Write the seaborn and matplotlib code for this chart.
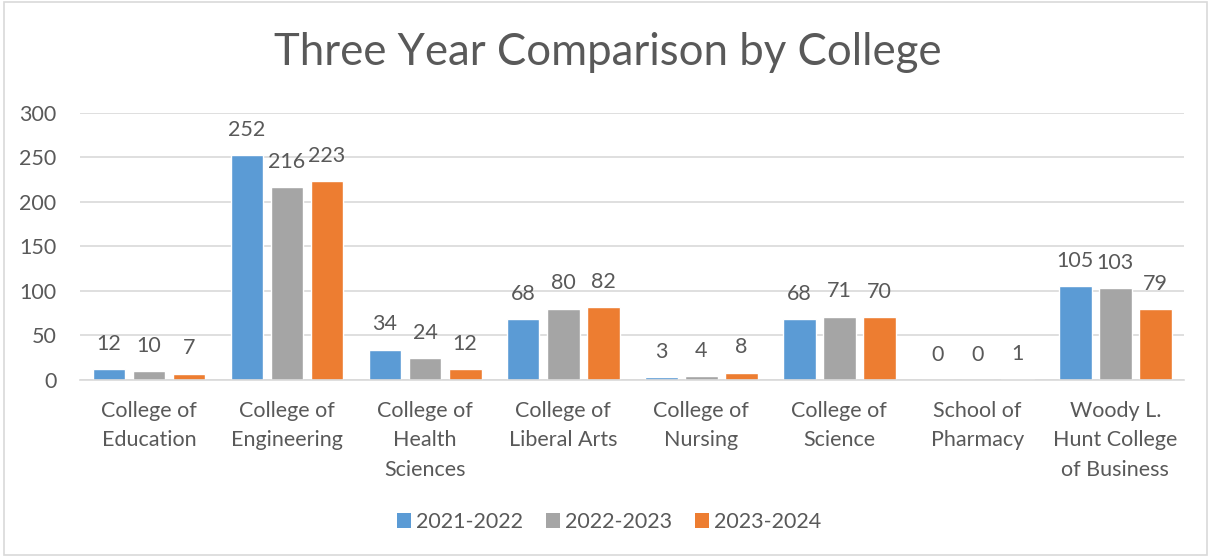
import matplotlib
matplotlib.use("Agg")
import matplotlib.pyplot as plt
import seaborn as sns
import pandas as pd
from matplotlib.patches import Rectangle, Patch

colleges = [
    "College of\nEducation",
    "College of\nEngineering",
    "College of\nHealth\nSciences",
    "College of\nLiberal Arts",
    "College of\nNursing",
    "College of\nScience",
    "School of\nPharmacy",
    "Woody L.\nHunt College\nof Business",
]
years = ["2021-2022", "2022-2023", "2023-2024"]
v_2021 = [12, 252, 34, 68, 3, 68, 0, 105]
v_2022 = [10, 216, 24, 80, 4, 71, 0, 103]
v_2023 = [7, 223, 12, 82, 8, 70, 1, 79]
colors = ["#5B9BD5", "#A5A5A5", "#ED7D31"]
text_col = "#595959"

rows = []
for yr, vals in zip(years, [v_2021, v_2022, v_2023]):
    for c, v in zip(colleges, vals):
        rows.append({"college": c, "year": yr, "count": v})
df = pd.DataFrame(rows)

sns.set_style("white")
plt.rcParams["font.family"] = ["Lato", "DejaVu Sans"]

fig = plt.figure(figsize=(12.11, 5.57), dpi=100)
ax = fig.add_axes([0.066, 0.318, 0.912, 0.480])

sns.barplot(data=df, x="college", y="count", hue="year", palette=colors,
            width=0.87, saturation=1, ax=ax, legend=False)

# shrink bars a bit so there is a gap between them, like Excel
for cont, vals in zip(ax.containers, [v_2021, v_2022, v_2023]):
    for bar, v in zip(cont, vals):
        w = bar.get_width()
        bar.set_x(bar.get_x() + w * 0.09)
        bar.set_width(w * 0.82)
        ax.annotate(str(v), (bar.get_x() + bar.get_width() / 2, v),
                    xytext=(0, 11), textcoords="offset points",
                    ha="center", va="bottom", fontsize=15.5, color=text_col)

ax.set_ylim(0, 300)
ax.set_xlim(-0.5, len(colleges) - 0.5)
ax.set_yticks(range(0, 301, 50))
ax.yaxis.grid(True, color="#D9D9D9", linewidth=1.2)
ax.set_axisbelow(True)
for s in ["top", "right", "left"]:
    ax.spines[s].set_visible(False)
ax.spines["bottom"].set_color("#D9D9D9")
ax.spines["bottom"].set_linewidth(1.2)
ax.tick_params(axis="both", length=0, labelsize=15.5, colors=text_col)
ax.tick_params(axis="x", pad=15)
ax.tick_params(axis="y", pad=17)
for lbl in ax.get_xticklabels():
    lbl.set_linespacing(1.6)
    lbl.set_va("top")
ax.set_xlabel("")
ax.set_ylabel("")

fig.text(0.502, 0.905, "Three Year Comparison by College", ha="center",
         va="center", fontsize=31.5, color=text_col)

handles = [Patch(facecolor=c, edgecolor="none") for c in colors]
fig.legend(handles, years, loc="center", bbox_to_anchor=(0.503, 0.063),
           ncol=3, frameon=False, fontsize=15.5, labelcolor=text_col,
           handlelength=0.65, handleheight=0.65, handletextpad=0.25,
           columnspacing=1.05)

fig.patches.append(Rectangle((0.003, 0.003), 0.994, 0.994,
                             transform=fig.transFigure, fill=False,
                             edgecolor="#D9D9D9", linewidth=1.2))

fig.savefig("out.png", dpi=100)
